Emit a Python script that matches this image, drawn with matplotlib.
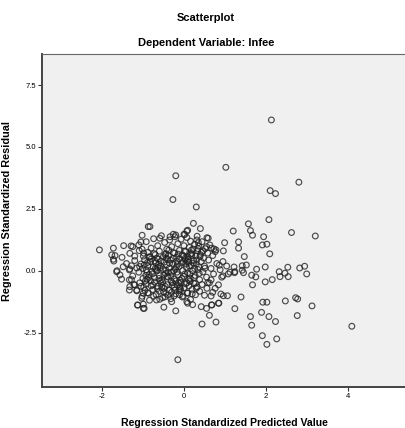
import matplotlib.pyplot as plt
from matplotlib import font_manager
import numpy as np

# Upper part of the main cluster (predicted, residual)
core_hi_x = [-1.10, -0.98, -0.92, -0.85, -0.80, -0.74, -0.70, -0.64, -0.60, -0.55,
             -0.50, -0.47, -0.42, -0.38, -0.35, -0.30, -0.26, -0.22, -0.18, -0.15,
             -0.11, -0.07, -0.04, 0.00, 0.04, 0.07, 0.10, 0.13, 0.16, 0.19,
             0.22, 0.26, 0.29, 0.33, 0.36, 0.40, 0.44, 0.48, 0.52, 0.58,
             0.63, 0.70, 0.78, -1.20, -1.02, -0.88, -0.66, -0.44, 0.03, 0.18]
core_hi_y = [1.05, 0.72, 1.18, 0.55, 0.92, 1.30, 0.66, 1.02, 0.80, 1.42,
             0.58, 1.15, 0.88, 0.62, 1.25, 0.98, 0.74, 1.38, 0.55, 1.10,
             0.83, 1.28, 0.65, 1.02, 0.78, 1.35, 0.57, 0.95, 1.20, 0.70,
             0.88, 1.08, 0.60, 0.82, 1.00, 0.66, 1.18, 0.52, 0.90, 0.72,
             1.05, 0.62, 0.85, 0.60, 0.88, 0.75, 0.52, 0.70, 0.52, 0.84]

# Middle of the cluster
core_mid_x = [-1.40, -1.32, -1.25, -1.20, -1.15, -1.10, -1.05, -1.00, -0.96, -0.92,
              -0.88, -0.85, -0.82, -0.78, -0.75, -0.72, -0.69, -0.66, -0.63, -0.60,
              -0.57, -0.54, -0.51, -0.48, -0.45, -0.42, -0.39, -0.36, -0.33, -0.30,
              -0.27, -0.24, -0.21, -0.18, -0.15, -0.12, -0.09, -0.06, -0.03, 0.00,
              0.03, 0.06, 0.09, 0.12, 0.15, 0.18, 0.21, 0.24, 0.27, 0.30,
              0.34, 0.38, 0.42, 0.46, 0.50, 0.55, 0.60, 0.66, 0.72, 0.80,
              0.88, 0.95, -1.28, -0.94, -0.80, -0.62, -0.40, -0.20, 0.10, 0.36,
              -1.08, -0.86, -0.70, -0.56, -0.44, -0.32, -0.16, -0.02, 0.14, 0.26]
core_mid_y = [0.30, 0.08, -0.20, 0.42, 0.12, -0.05, 0.28, -0.30, 0.45, 0.05,
              0.22, -0.15, 0.38, -0.02, 0.15, -0.28, 0.32, 0.00, 0.48, -0.18,
              0.20, -0.35, 0.06, 0.36, -0.10, 0.25, -0.25, 0.12, 0.44, -0.05,
              0.30, -0.32, 0.08, 0.40, -0.15, 0.18, -0.38, 0.32, 0.02, -0.22,
              0.45, 0.14, -0.08, 0.35, -0.30, 0.22, 0.00, 0.42, -0.18, 0.28,
              0.06, -0.35, 0.38, -0.04, 0.20, -0.25, 0.44, 0.10, -0.12, 0.30,
              0.05, -0.20, -0.35, -0.40, 0.48, 0.26, 0.46, -0.40, 0.48, 0.16,
              0.18, -0.26, 0.10, 0.40, 0.02, -0.20, 0.26, 0.38, -0.12, 0.10]

# Lower part of the cluster
core_lo_x = [-1.22, -1.15, -1.08, -1.02, -0.98, -0.92, -0.88, -0.84, -0.80, -0.76,
             -0.72, -0.68, -0.64, -0.60, -0.56, -0.52, -0.48, -0.44, -0.40, -0.36,
             -0.32, -0.28, -0.24, -0.20, -0.16, -0.12, -0.08, -0.04, 0.00, 0.04,
             0.08, 0.12, 0.16, 0.20, 0.24, 0.28, 0.32, 0.38, 0.44, 0.50,
             0.56, 0.62, 0.70, -0.95, -0.74, -0.58, -0.46, -0.30, -0.10, 0.14]
core_lo_y = [-0.55, -0.80, -0.48, -1.02, -0.66, -0.52, -0.88, -1.18, -0.60, -0.75,
             -0.45, -0.95, -0.62, -0.82, -0.50, -1.08, -0.70, -0.90, -0.55, -0.78,
             -1.12, -0.48, -0.66, -0.92, -0.58, -0.80, -0.46, -1.05, -0.68, -0.52,
             -0.88, -0.60, -1.15, -0.74, -0.50, -0.96, -0.64, -0.82, -0.55, -0.98,
             -0.70, -0.48, -0.86, -0.78, -1.02, -0.40, -0.62, -0.86, -0.64, -0.42]

# Densest part of the cluster (extra overlapping points)
core_dense_x = [-1.05, -0.97, -0.90, -0.83, -0.77, -0.71, -0.65, -0.58, -0.52, -0.46,
                -0.41, -0.35, -0.29, -0.23, -0.17, -0.11, -0.05, 0.01, 0.07, 0.13,
                0.19, 0.25, 0.31, 0.37, 0.43, -1.01, -0.93, -0.81, -0.68, -0.54,
                -0.43, -0.31, -0.19, -0.08, 0.04, 0.16, 0.28, 0.39, -0.89, -0.73,
                -0.61, -0.49, -0.37, -0.25, -0.13, -0.01, 0.11, 0.23, 0.34, -0.76,
                -0.50, -0.26, 0.02, 0.20, -0.64, -0.38, -0.14, 0.08, 0.30, -0.90]
core_dense_y = [-0.62, 0.24, -0.34, 0.58, -0.12, 0.41, -0.71, 0.12, -0.44, 0.66,
                -0.22, 0.31, -0.58, 0.72, -0.05, 0.49, -0.30, 0.80, -0.48, 0.20,
                0.62, -0.26, 0.44, -0.10, 0.75, 0.10, -0.18, -0.40, 0.05, -0.66,
                0.52, -0.42, 0.15, -0.75, 0.28, 0.68, -0.50, 0.58, 0.34, 0.70,
                -0.30, -0.16, 0.84, 0.02, -0.48, 0.60, -0.35, 0.32, 0.90, -0.56,
                -0.84, 0.50, -0.12, -0.92, 0.15, -0.06, 0.68, 0.40, -0.70, -0.05]

# Points around the edge of the cluster (left side)
left_x = [-2.06, -1.72, -1.76, -1.68, -1.71, -1.72, -1.51, -1.47, -1.29, -1.25,
          -1.02, -1.05, -0.87, -1.09, -1.32, -0.99, -1.63, -1.48, -1.33, -1.28,
          -0.59, -0.34, -0.26, -0.20, 0.07, 0.00,
          -1.64, -1.56, -1.52, -1.33, -1.32, -1.33, -1.20, -1.15, -1.13, -1.03,
          -0.99, -0.97, -0.99, -0.87, -0.67, -0.59, -0.46, -0.38, -0.49, -0.20,
          -0.30, -0.24, -0.11, -0.02, 0.07, 0.09, -0.22, -0.10, 0.09, 0.21,
          -1.13, -0.99]
left_y = [0.85, 0.92, 0.65, 0.62, 0.40, 0.47, 0.55, 1.02, 1.01, 0.98,
          1.44, 1.17, 1.79, 0.82, 0.71, 0.60, 0.01, 0.17, 0.04, 0.21,
          1.32, 1.38, 1.48, 1.45, 1.61, 1.48,
          -0.03, -0.16, -0.33, -0.36, -0.63, -0.77, -0.56, -0.77, -1.37, -1.10,
          -1.34, -1.51, -0.90, -0.90, -1.17, -1.14, -1.04, -0.97, -1.46, -1.61,
          -1.24, -1.01, -0.96, -1.01, -1.24, -0.90, -0.77, -0.70, -1.30, -1.36,
          -1.38, -1.51]

# Upper spread and outliers
top_x = [2.13, 1.02, -0.20, -0.27, 0.30, 2.80, 2.10, 2.23, 2.07, 2.62, 3.20,
         -0.83, 0.23, 0.40, 0.09, 0.02, 1.20, 1.57, 1.62, 1.67, 0.99, 0.96,
         1.33, 1.33, 1.94, 1.91, 2.02, 1.47, 0.59, 0.55, 0.31, 0.67, 0.76,
         0.32, 0.56, 0.35, 0.73, 0.46, 2.09]
top_y = [6.09, 4.18, 3.84, 2.88, 2.58, 3.58, 3.24, 3.12, 2.07, 1.55, 1.41,
         1.79, 1.92, 1.71, 1.64, 1.47, 1.61, 1.90, 1.63, 1.44, 1.14, 0.81,
         1.17, 0.92, 1.38, 1.05, 1.08, 0.58, 1.32, 0.98, 1.25, 0.92, 0.78,
         1.40, 1.34, 1.14, 0.89, 0.81, 0.69]

# Right side and lower spread
right_x = [0.95, 0.86, 1.04, 1.22, 1.42, 1.52, 1.77, 1.98, 2.32, 0.51,
           2.53, 2.82, 2.94, 2.99, 1.42, 1.45, 1.12, 1.24, 1.65, 1.75,
           2.34, 2.54, 2.15, 1.98, 1.67, 1.39, 1.24, 2.47, 2.72, 2.77,
           3.12, 1.92, 2.02, 1.89, 2.07, 2.23, 1.62, 1.65, 2.76, 1.91,
           2.26, 2.02, 4.09, -0.15, 0.44, 0.78, 0.62, 0.96, 1.06, 0.90,
           0.84, 0.67, 0.66, 0.55, 0.76, 0.84, 0.58, 0.66, 0.92, 1.08,
           1.23, 2.46, 0.42, 0.68, 0.85]
right_y = [0.38, 0.23, 0.20, 0.16, 0.21, 0.24, 0.07, 0.16, -0.03, 0.11,
           0.15, 0.12, 0.19, -0.12, 0.03, -0.07, -0.05, -0.03, -0.17, -0.24,
           -0.23, -0.23, -0.35, -0.44, -0.56, -1.05, -1.52, -1.21, -1.08, -1.13,
           -1.41, -1.26, -1.26, -1.67, -1.84, -2.04, -1.84, -2.19, -1.80, -2.61,
           -2.74, -2.96, -2.23, -3.58, -2.14, -2.06, -1.79, -1.00, -1.00, -0.93,
           -1.30, -1.37, -1.01, -1.51, -0.70, -0.56, -0.47, -0.36, -0.25, -0.12,
           -0.07, -0.09, -1.44, -1.37, -1.30]

x_ticks = [-2, 0, 2, 4]
y_ticks = [-2.5, 0.0, 2.5, 5.0, 7.5]

pred = core_hi_x + core_mid_x + core_lo_x + core_dense_x + left_x + top_x + right_x
resid = core_hi_y + core_mid_y + core_lo_y + core_dense_y + left_y + top_y + right_y

# SPSS uses a narrow Arial; take Liberation Sans Narrow if it exists, otherwise shrink
names = {f.name for f in font_manager.fontManager.ttflist}
if 'Liberation Sans Narrow' in names:
    fam, k = 'Liberation Sans Narrow', 1.0
else:
    fam, k = 'Liberation Sans', 0.84

fig = plt.figure(figsize=(4.06, 4.28), dpi=100)
ax = fig.add_axes([0.1034, 0.0958, 0.8966, 0.778])
ax.set_facecolor('#f0f0f0')

ax.scatter(pred, resid, s=17, facecolors='none', edgecolors='#222222', linewidths=0.85, alpha=0.8)

ax.set_xlim(-3.46, 5.41)
ax.set_ylim(-4.68, 8.75)
ax.set_xticks(x_ticks)
ax.set_xticklabels([str(t) for t in x_ticks], fontsize=6.5 * k, family=fam)
ax.set_yticks(y_ticks)
ax.set_yticklabels(['%.1f' % t for t in y_ticks], fontsize=6.5 * k, family=fam)
ax.tick_params(length=3, width=0.8, color='#333333', pad=1)

for s in ['left', 'bottom']:
    ax.spines[s].set_linewidth(1.4)
    ax.spines[s].set_color('#444444')
ax.spines['top'].set_linewidth(0.8)
ax.spines['top'].set_color('#666666')
ax.spines['right'].set_visible(False)

ax.set_xlabel('Regression Standardized Predicted Value', fontsize=9 * k, fontweight='bold', family=fam)
ax.xaxis.set_label_coords(0.5, -0.092)
ax.set_ylabel('Regression Standardized Residual', fontsize=7.8, fontweight='bold', family='Liberation Sans')
ax.yaxis.set_label_coords(-0.082, 0.528)

fig.text(0.508, 0.958, 'Scatterplot', ha='center', va='center', fontsize=9.5 * k, fontweight='bold', family=fam)
fig.text(0.508, 0.899, 'Dependent Variable: lnfee', ha='center', va='center', fontsize=9.5 * k, fontweight='bold', family=fam)

fig.savefig('out.png', dpi=100)
